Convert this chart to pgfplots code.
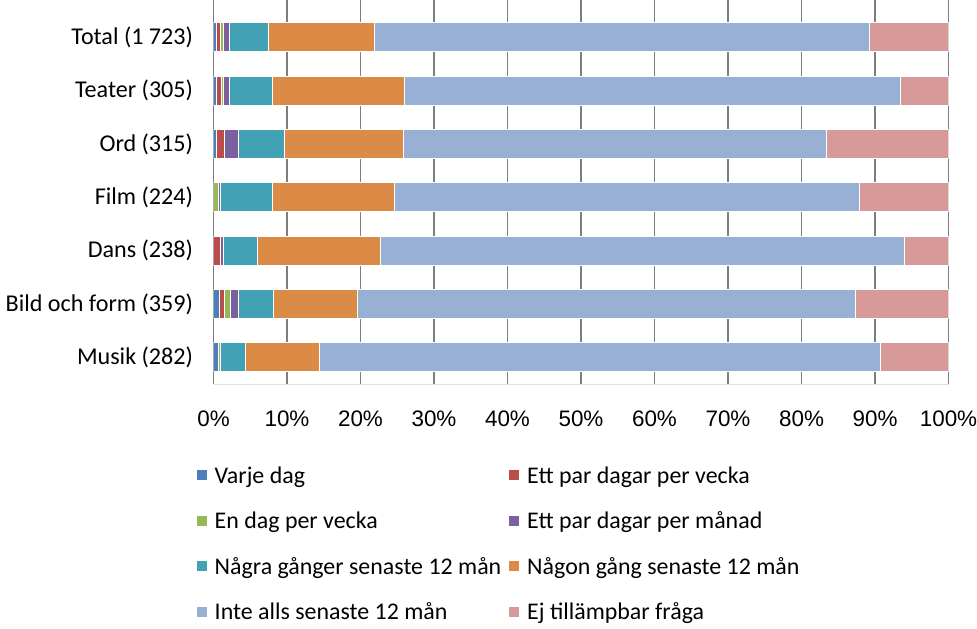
\documentclass[border=0pt]{standalone}
\usepackage{pgfplots}
\pgfplotsset{compat=1.18}
\usepackage{fontspec}
\setmainfont{Carlito}
\newfontfamily\arial{Liberation Sans}
\definecolor{cVarje}{RGB}{79,127,186}
\definecolor{cRed}{RGB}{186,76,74}
\definecolor{cGreen}{RGB}{152,184,87}
\definecolor{cPurple}{RGB}{125,95,160}
\definecolor{cTeal}{RGB}{67,161,181}
\definecolor{cOrange}{RGB}{219,139,69}
\definecolor{cBlue}{RGB}{152,176,212}
\definecolor{cPink}{RGB}{216,154,153}
\definecolor{cGrid}{RGB}{125,125,125}
\begin{document}
\begin{tikzpicture}
\useasboundingbox (0,0) rectangle (977bp,-629bp);
\begin{axis}[
  at={(213.5bp,-384bp)}, anchor=south west,
  scale only axis, width=735bp, height=384bp,
  xbar stacked, bar width=29bp,
  xmin=0, xmax=100, ymin=-0.5, ymax=6.7,
  xtick={0,10,20,30,40,50,60,70,80,90,100},
  xticklabels={0\%,10\%,20\%,30\%,40\%,50\%,60\%,70\%,80\%,90\%,100\%},
  ytick={0,1,2,3,4,5,6},
  yticklabels={Musik (282),Bild och form (359),Dans (238),Film (224),Ord (315),Teater (305),Total (1 723)},
  xmajorgrids, major grid style={cGrid, line width=1.3bp},
  axis lines*=left,
  y axis line style={cGrid, line width=1.3bp},
  x axis line style={black!12, line width=1bp},
  tick style={draw=none}, major tick length=0pt,
  yticklabel style={font=\fontsize{24.2}{28}\selectfont, xshift=-17bp},
  xticklabel style={font=\arial\fontsize{22.5}{26}\selectfont, yshift=-23bp},
  legend columns=2,
  legend cell align=left,
  legend image code/.code={\path[#1] (0bp,-5bp) rectangle (11bp,6bp);},
  legend style={draw=none, fill=none, at={(-0.0285,-0.205)}, anchor=north west,
    font=\fontsize{24}{28}\selectfont,
    row sep=23bp,
    /tikz/every odd column/.append style={column sep=5bp},
    /tikz/every even column/.append style={column sep=5bp}},
  every axis plot/.append style={draw=white, line width=1bp},
]
\addplot[fill=cVarje] coordinates {(0.64,0) (0.78,1) (0,2) (0,3) (0.45,4) (0.45,5) (0.45,6)};
\addlegendentry{Varje dag}
\addplot[fill=cRed] coordinates {(0,0) (0.76,1) (1.0,2) (0,3) (1.0,4) (0.6,5) (0.48,6)};
\addlegendentry{Ett par dagar per vecka}
\addplot[fill=cGreen] coordinates {(0.35,0) (0.84,1) (0,2) (0.64,3) (0,4) (0.37,5) (0.4,6)};
\addlegendentry{En dag per vecka}
\addplot[fill=cPurple] coordinates {(0,0) (1.02,1) (0.36,2) (0.38,3) (1.95,4) (0.7,5) (0.8,6)};
\addlegendentry{Ett par dagar per månad}
\addplot[fill=cTeal] coordinates {(3.4,0) (4.72,1) (4.6,2) (7.0,3) (6.2,4) (5.85,5) (5.32,6)};
\addlegendentry{Några gånger senaste 12 mån}
\addplot[fill=cOrange] coordinates {(10.0,0) (11.48,1) (16.8,2) (16.6,3) (16.2,4) (18.05,5) (14.5,6)};
\addlegendentry{Någon gång senaste 12 mån}
\addplot[fill=cBlue] coordinates {(76.3,0) (67.8,1) (71.24,2) (63.3,3) (57.6,4) (67.4,5) (67.3,6)};
\addlegendentry{Inte alls senaste 12 mån}
\addplot[fill=cPink] coordinates {(9.3,0) (12.6,1) (6.0,2) (12.1,3) (16.6,4) (6.6,5) (10.7,6)};
\addlegendentry{Ej tillämpbar fråga}
\end{axis}
\end{tikzpicture}
\end{document}
